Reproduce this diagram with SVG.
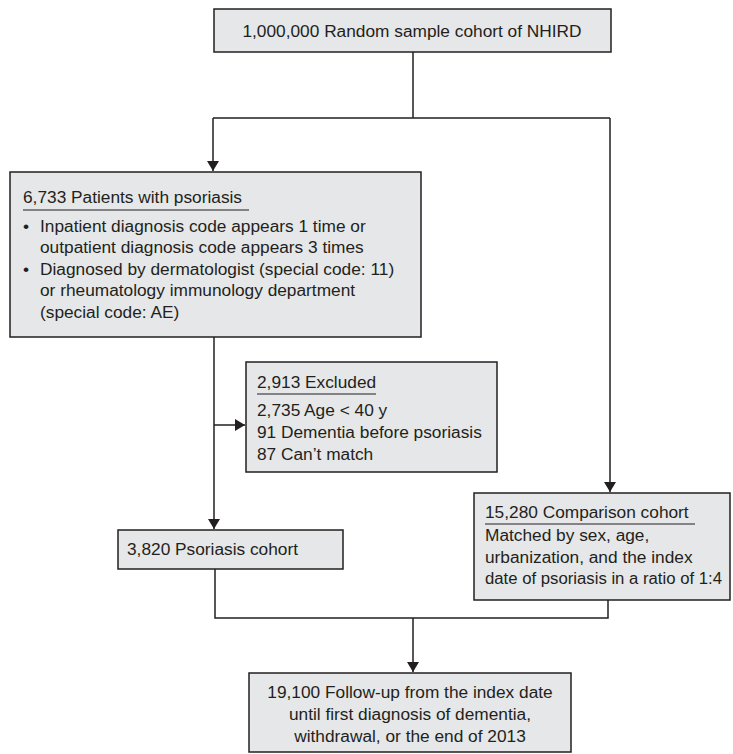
<svg xmlns="http://www.w3.org/2000/svg" width="733" height="754" viewBox="0 0 733 754">
<defs>
<marker id="arr" viewBox="0 0 10 12" refX="10" refY="6" markerWidth="10" markerHeight="12" markerUnits="userSpaceOnUse" orient="auto">
<path d="M0,0 L10,6 L0,12 z" fill="#231f20"/>
</marker>
<style>
.box{fill:#e6e7e8;stroke:#231f20;stroke-width:1.5}
.t{font-family:"Liberation Sans",Arial,sans-serif;font-size:17.3px;fill:#231f20}
.c{text-anchor:middle}
.ul{stroke:#231f20;stroke-width:1.2}
.ln{fill:none;stroke:#231f20;stroke-width:1.5}
</style>
</defs>
<rect width="733" height="754" fill="#fff"/>
<g id="connectors">
<path class="ln" d="M413,52 V118 M213,118 H610"/>
<path class="ln" d="M213,118 V171" marker-end="url(#arr)"/>
<path class="ln" d="M610,118 V492" marker-end="url(#arr)"/>
<path class="ln" d="M214,337 V529" marker-end="url(#arr)"/>
<path class="ln" d="M214,425 V425 H245" marker-end="url(#arr)"/>
<path class="ln" d="M215,569 V618 H608 V600"/>
<path class="ln" d="M413,618 V672" marker-end="url(#arr)"/>
</g>
<g id="n1">
<rect class="box" x="214" y="9" width="397" height="43"/>
<text class="t c" x="412" y="37">1,000,000 Random sample cohort of NHIRD</text>
</g>
<g id="n2">
<rect class="box" x="10" y="172" width="411" height="165"/>
<text class="t" x="23" y="203">6,733 Patients with psoriasis</text>
<line class="ul" x1="23" y1="210" x2="249" y2="210"/>
<text class="t" x="23" y="232">•</text>
<text class="t" x="40" y="232">Inpatient diagnosis code appears 1 time or</text>
<text class="t" x="40" y="253">outpatient diagnosis code appears 3 times</text>
<text class="t" x="23" y="275">•</text>
<text class="t" x="40" y="275">Diagnosed by dermatologist (special code: 11)</text>
<text class="t" x="40" y="296">or rheumatology immunology department</text>
<text class="t" x="40" y="318">(special code: AE)</text>
</g>
<g id="n3">
<rect class="box" x="246" y="362" width="251" height="110"/>
<text class="t" x="257" y="388">2,913 Excluded</text>
<line class="ul" x1="257" y1="394" x2="376" y2="394"/>
<text class="t" x="257" y="416">2,735 Age &lt; 40 y</text>
<text class="t" x="257" y="438">91 Dementia before psoriasis</text>
<text class="t" x="257" y="460">87 Can’t match</text>
</g>
<g id="n4">
<rect class="box" x="118" y="530" width="225" height="39"/>
<text class="t" x="127" y="555">3,820 Psoriasis cohort</text>
</g>
<g id="n5">
<rect class="box" x="474" y="493" width="256" height="107"/>
<text class="t" x="485" y="518">15,280 Comparison cohort</text>
<line class="ul" x1="485" y1="524" x2="695" y2="524"/>
<text class="t" x="485" y="541">Matched by sex, age,</text>
<text class="t" x="485" y="563">urbanization, and the index</text>
<text class="t" x="485" y="584" textLength="237" lengthAdjust="spacingAndGlyphs">date of psoriasis in a ratio of 1:4</text>
</g>
<g id="n6">
<rect class="box" x="249" y="673" width="322" height="79"/>
<text class="t c" x="410" y="698">19,100 Follow-up from the index date</text>
<text class="t c" x="410" y="720">until first diagnosis of dementia,</text>
<text class="t c" x="410" y="742">withdrawal, or the end of 2013</text>
</g>
</svg>
